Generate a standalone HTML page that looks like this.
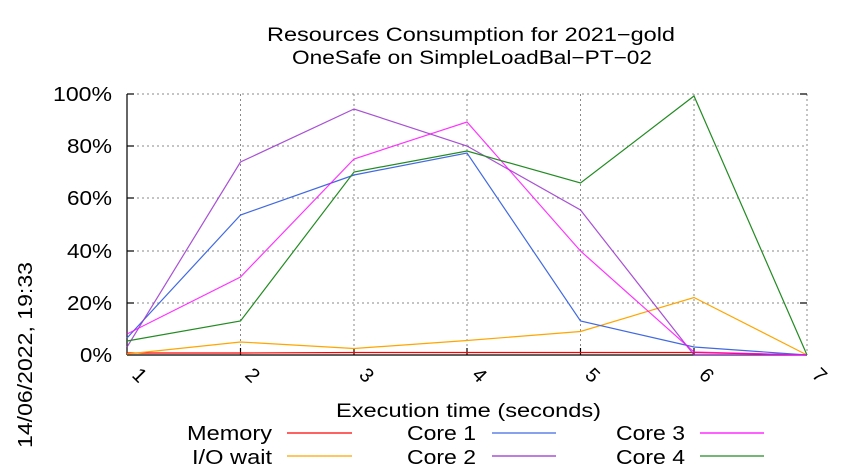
<!DOCTYPE html>
<html><head><meta charset="utf-8"><style>body{margin:0;background:#fff}svg{display:block;font-family:"Liberation Sans",sans-serif}</style></head><body>
<svg width="850" height="475" xmlns="http://www.w3.org/2000/svg">
<rect width="850" height="475" fill="#fff"/>
<text x="267" y="41" font-size="19" textLength="408" lengthAdjust="spacingAndGlyphs">Resources Consumption for 2021−gold</text>
<text x="292" y="64" font-size="19" textLength="360" lengthAdjust="spacingAndGlyphs">OneSafe on SimpleLoadBal−PT−02</text>
<g stroke="#888" stroke-dasharray="2,3" stroke-width="1">
<line x1="127" y1="94" x2="807" y2="94"/><line x1="127" y1="146" x2="807" y2="146"/><line x1="127" y1="198" x2="807" y2="198"/><line x1="127" y1="251" x2="807" y2="251"/><line x1="127" y1="303" x2="807" y2="303"/>
<line x1="240.5" y1="94" x2="240.5" y2="355"/><line x1="354" y1="94" x2="354" y2="355"/><line x1="467" y1="94" x2="467" y2="355"/><line x1="580.5" y1="94" x2="580.5" y2="355"/><line x1="694" y1="94" x2="694" y2="355"/><line x1="807" y1="94" x2="807" y2="355"/>
</g>
<g stroke="#000" stroke-width="1.2">
<line x1="127" y1="94" x2="127" y2="355"/><line x1="127" y1="355" x2="807" y2="355"/>
<line x1="127" y1="94" x2="134" y2="94"/><line x1="127" y1="146" x2="134" y2="146"/><line x1="127" y1="198" x2="134" y2="198"/><line x1="127" y1="251" x2="134" y2="251"/><line x1="127" y1="303" x2="134" y2="303"/>
<line x1="800" y1="94" x2="807" y2="94"/><line x1="800" y1="303" x2="807" y2="303"/>
<line x1="240.5" y1="355" x2="240.5" y2="348"/><line x1="354" y1="355" x2="354" y2="348"/><line x1="467" y1="355" x2="467" y2="348"/><line x1="580.5" y1="355" x2="580.5" y2="348"/><line x1="694" y1="355" x2="694" y2="348"/>
</g>
<g font-size="20">
<text x="53" y="101" textLength="59" lengthAdjust="spacingAndGlyphs">100%</text>
<text x="67" y="153" textLength="45" lengthAdjust="spacingAndGlyphs">80%</text>
<text x="67" y="205" textLength="45" lengthAdjust="spacingAndGlyphs">60%</text>
<text x="67" y="258" textLength="45" lengthAdjust="spacingAndGlyphs">40%</text>
<text x="67" y="310" textLength="45" lengthAdjust="spacingAndGlyphs">20%</text>
<text x="80" y="362" textLength="32" lengthAdjust="spacingAndGlyphs">0%</text>
</g>
<g font-size="20">
<text transform="translate(131,376) rotate(45)">1</text>
<text transform="translate(244,376) rotate(45)">2</text>
<text transform="translate(358,376) rotate(45)">3</text>
<text transform="translate(471,376) rotate(45)">4</text>
<text transform="translate(584,376) rotate(45)">5</text>
<text transform="translate(698,376) rotate(45)">6</text>
<text transform="translate(811,376) rotate(45)">7</text>
</g>
<text x="336" y="417" font-size="19" textLength="265" lengthAdjust="spacingAndGlyphs">Execution time (seconds)</text>
<text transform="translate(32,448) rotate(-90)" font-size="20" textLength="186" lengthAdjust="spacingAndGlyphs">14/06/2022, 19:33</text>
<g fill="none" stroke-width="1.2">
<polyline stroke="#ff0000" points="127,353 240.5,353 354,352.5 467,352.5 580.5,352.5 694,352.5 807,355"/>
<polyline stroke="#ffa500" points="127,354 240.5,342 354,348.5 467,340.5 580.5,331.5 694,297.5 807,355"/>
<polyline stroke="#4169e1" points="127,338 240.5,215 354,175 467,153 580.5,321 694,347 807,355"/>
<polyline stroke="#9932cc" stroke-opacity=".85" points="127,347 240.5,162 354,109 467,146 580.5,210 694,355 807,355"/>
<polyline stroke="#ff00ff" stroke-opacity=".8" points="127,334 240.5,277 354,159 467,122 580.5,251 694,352 807,355"/>
<polyline stroke="#228b22" points="127,341 240.5,321 354,172 467,151 580.5,183 694,96 807,355"/>
</g>
<g font-size="20">
<text x="187" y="440" textLength="85" lengthAdjust="spacingAndGlyphs">Memory</text>
<text x="192" y="464" textLength="80" lengthAdjust="spacingAndGlyphs">I/O wait</text>
<text x="407" y="440" textLength="69" lengthAdjust="spacingAndGlyphs">Core 1</text>
<text x="407" y="464" textLength="69" lengthAdjust="spacingAndGlyphs">Core 2</text>
<text x="616" y="440" textLength="69" lengthAdjust="spacingAndGlyphs">Core 3</text>
<text x="616" y="464" textLength="69" lengthAdjust="spacingAndGlyphs">Core 4</text>
</g>
<g stroke-width="1.2">
<line x1="287" y1="433" x2="352" y2="433" stroke="#ff0000"/><line x1="287" y1="456" x2="352" y2="456" stroke="#ffa500"/>
<line x1="492" y1="433" x2="556" y2="433" stroke="#4169e1"/><line x1="492" y1="456" x2="556" y2="456" stroke="#9932cc"/>
<line x1="700" y1="433" x2="764" y2="433" stroke="#ff00ff"/><line x1="700" y1="456" x2="764" y2="456" stroke="#228b22"/>
</g>
</svg>
</body></html>
